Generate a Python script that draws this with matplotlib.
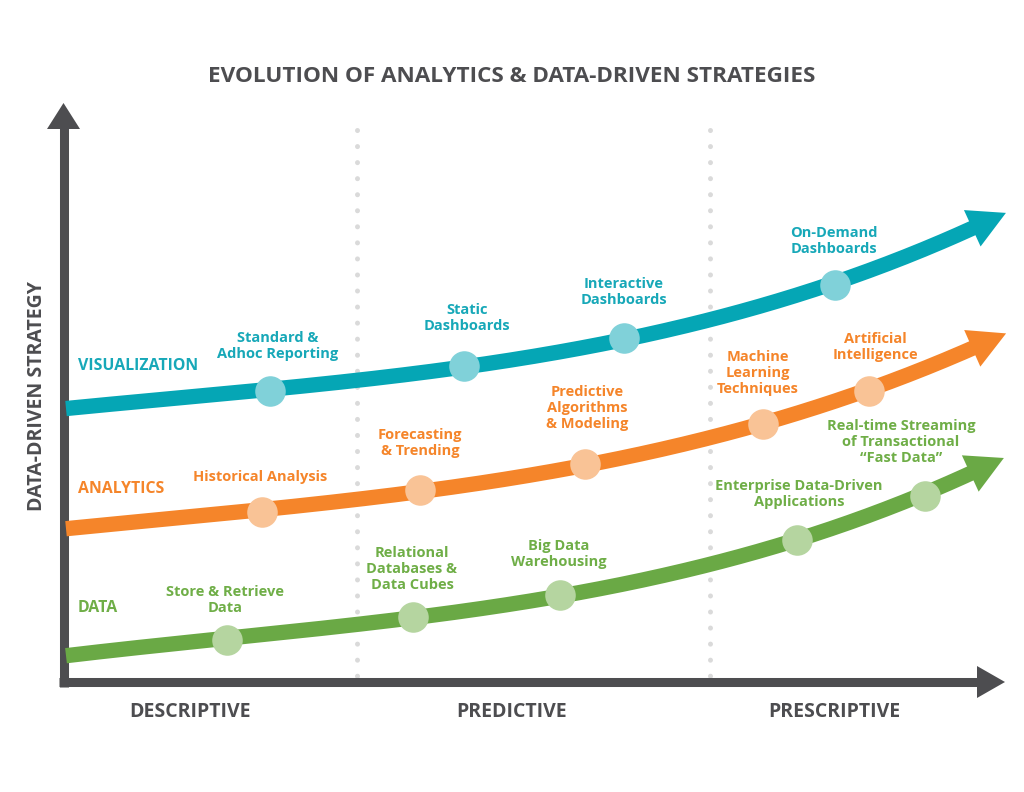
import numpy as np
import matplotlib
matplotlib.use("Agg")
import matplotlib.pyplot as plt
from matplotlib.patches import Polygon

plt.rcParams['font.family'] = ['Open Sans', 'DejaVu Sans']

# canvas coordinates (pixels, y grows downward)
title = "EVOLUTION OF ANALYTICS & DATA-DRIVEN STRATEGIES"
stage_labels = ["DESCRIPTIVE", "PREDICTIVE", "PRESCRIPTIVE"]
stage_x = [190, 512, 834]
divider_x = [357, 710]

series_names = ["VISUALIZATION", "ANALYTICS", "DATA"]
series_label_y = [366, 489, 608]

# curve knots: start, milestones, end of shaft
vis_x = [66, 270, 464, 624, 835, 975]
vis_y = [408, 391, 366, 338, 285, 226]
ana_x = [66, 262, 420, 585, 763, 869, 975]
ana_y = [528, 512, 490, 464, 424, 391, 346]
dat_x = [66, 227, 413, 560, 797, 925, 973]
dat_y = [655, 640, 617, 595, 540, 496, 470]

vis_labels = ["Standard &\nAdhoc Reporting", "Static\nDashboards",
              "Interactive\nDashboards", "On-Demand\nDashboards"]
vis_lab_xy = [(278, 346), (467, 318), (624, 292), (834, 241)]
ana_labels = ["Historical Analysis", "Forecasting\n& Trending",
              "Predictive\nAlgorithms\n& Modeling", "Machine\nLearning\nTechniques",
              "Artificial\nIntelligence"]
ana_lab_xy = [(260, 477), (420, 443), (587, 408), (758, 373), (875, 347)]
dat_labels = ["Store & Retrieve\nData", "Relational\nDatabases &\nData Cubes",
              "Big Data\nWarehousing", "Enterprise Data-Driven\nApplications",
              "Real-time Streaming\nof Transactional\n\u201cFast Data\u201d"]
dat_lab_xy = [(225, 600), (412, 569), (559, 554), (799, 494), (901, 442)]

dark = "#4d4d50"
styles = [
    # line, marker, text
    ("#05a6b5", "#80d1d9", "#17a8b8"),
    ("#f5852a", "#f9c396", "#f5852a"),
    ("#6aa945", "#b5d5a0", "#6fae47"),
]

fig = plt.figure(figsize=(10.24, 7.92), dpi=100)
ax = fig.add_axes([0, 0, 1, 1])
ax.set_xlim(0, 1024)
ax.set_ylim(792, 0)
ax.axis("off")

ax.text(512, 77, title, ha="center", va="center", fontsize=16.2,
        fontweight="bold", color=dark)

# dotted dividers
for xd in divider_x:
    ax.plot([xd, xd], [130, 680], color="#dadada", lw=3.6,
            linestyle=(0, (0.01, 3.2)), dash_capstyle="round", zorder=1)

# axes arrows
ax.plot([63.5, 63.5], [687, 125], color=dark, lw=6.5, solid_capstyle="butt", zorder=2)
ax.add_patch(Polygon([(47, 129), (80, 129), (63.5, 103)], closed=True, color=dark, lw=0))
ax.plot([59, 980], [682, 682], color=dark, lw=6.5, solid_capstyle="butt", zorder=2)
ax.add_patch(Polygon([(977, 666), (977, 698), (1005, 682)], closed=True, color=dark, lw=0))

ax.text(37, 396, "DATA-DRIVEN STRATEGY", rotation=90, ha="center", va="center",
        fontsize=14, fontweight="bold", color=dark)
for lab, xs in zip(stage_labels, stage_x):
    ax.text(xs, 712, lab, ha="center", va="center", fontsize=14,
            fontweight="bold", color=dark)

curves = [(vis_x, vis_y, vis_labels, vis_lab_xy),
          (ana_x, ana_y, ana_labels, ana_lab_xy),
          (dat_x, dat_y, dat_labels, dat_lab_xy)]

for i, (cx, cy, labs, lab_xy) in enumerate(curves):
    line_c, mark_c, text_c = styles[i]
    coef = np.polyfit(cx, cy, 3)
    xs = np.linspace(cx[0], cx[-1], 300)
    ys = np.polyval(coef, xs)
    ax.plot(xs, ys, color=line_c, lw=11, solid_capstyle="butt", zorder=3)
    # arrow head along the end tangent
    dy = np.polyval(np.polyder(coef), cx[-1])
    u = np.array([1.0, dy]) / np.hypot(1.0, dy)
    n = np.array([-u[1], u[0]])
    end = np.array([cx[-1], np.polyval(coef, cx[-1])])
    head = [end + u * 34, end - u * 3 + n * 20, end - u * 3 - n * 20]
    ax.add_patch(Polygon(head, closed=True, color=line_c, lw=0, zorder=3))
    # milestones
    ax.plot(cx[1:-1], cy[1:-1], "o", ms=22, color=mark_c, mec="none", zorder=4)
    for lab, (lx, ly) in zip(labs, lab_xy):
        ax.text(lx, ly, lab, ha="center", va="center", fontsize=10.5,
                fontweight="bold", color=text_c, linespacing=1.15, zorder=5)
    ax.text(78, series_label_y[i], series_names[i], ha="left", va="center",
            fontsize=11.4, fontweight="bold", color=text_c)

fig.savefig("out.png", dpi=100, facecolor="white")
